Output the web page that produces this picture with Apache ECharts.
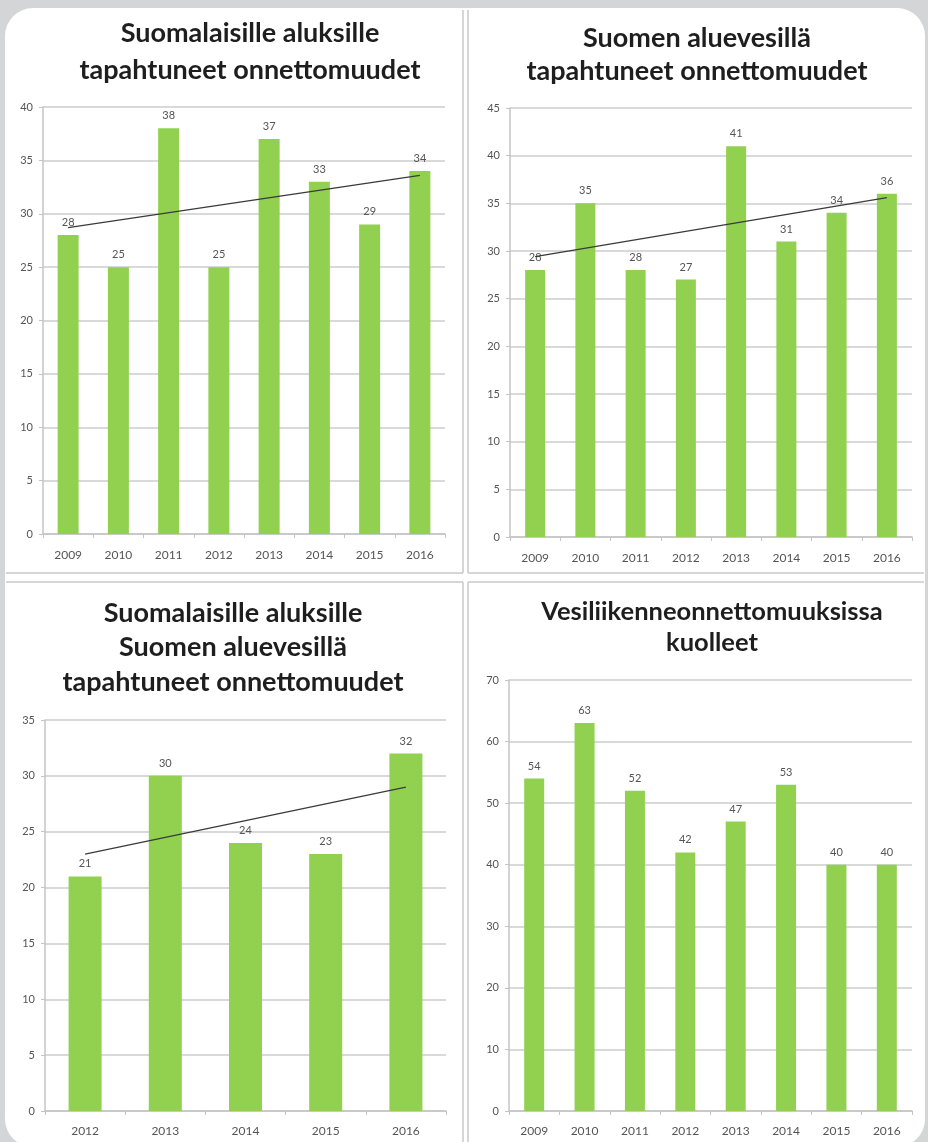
<!DOCTYPE html>
<html>
<head>
<meta charset="utf-8">
<script src="https://cdn.jsdelivr.net/npm/echarts@6/dist/echarts.min.js"></script>
<style>
  html, body { margin: 0; padding: 0; background: #d3d5d7; }
  #card {
    position: absolute; left: 5px; top: 8px; width: 920px; height: 1139px;
    background: #ffffff; border-radius: 28px;
  }
  #chart { position: absolute; left: 0; top: 0; width: 928px; height: 1142px; }
</style>
</head>
<body>
<div id="card"></div>
<div id="chart"></div>
<script>
// ---- data ----
var years8 = ['2009', '2010', '2011', '2012', '2013', '2014', '2015', '2016'];
var years5 = ['2012', '2013', '2014', '2015', '2016'];

var shipsValues = [28, 25, 38, 25, 37, 33, 29, 34];
var shipsTrend = [28.7, 33.6];          // trend line ends

var watersValues = [28, 35, 28, 27, 41, 31, 34, 36];
var watersTrend = [29.4, 35.6];

var bothValues = [21, 30, 24, 23, 32];
var bothTrend = [23, 29];

var deathsValues = [54, 63, 52, 42, 47, 53, 40, 40];

var titles = [
    'Suomalaisille aluksille\ntapahtuneet onnettomuudet',
    'Suomen aluevesillä\ntapahtuneet onnettomuudet',
    'Suomalaisille aluksille\nSuomen aluevesillä\ntapahtuneet onnettomuudet',
    'Vesiliikenneonnettomuuksissa\nkuolleet'
];

var GREEN = '#92d050';
var GRID_LINE = '#cdcdcd';
var TEXT = '#555555';
var FONT = 'Lato, "Open Sans", sans-serif';

var chart = echarts.init(document.getElementById('chart'));

function xAxisFor(idx, cats, margin) {
    return {
        type: 'category', gridIndex: idx, data: cats,
        axisLine: { show: true, lineStyle: { color: '#c4c4c4', width: 1.5 } },
        axisTick: { show: true, length: 4, lineStyle: { color: '#c4c4c4' } },
        axisLabel: { color: TEXT, fontSize: 12, fontFamily: FONT, margin: margin }
    };
}

function yAxisFor(idx, max, step) {
    return {
        type: 'value', gridIndex: idx, min: 0, max: max, interval: step,
        axisLine: { show: true, lineStyle: { color: '#c4c4c4', width: 1.5 } },
        axisTick: { show: true, length: 4, lineStyle: { color: '#c4c4c4' } },
        axisLabel: { color: TEXT, fontSize: 11, fontFamily: FONT, margin: 10 },
        splitLine: { show: true, lineStyle: { color: GRID_LINE, width: 1.5 } }
    };
}

function barsFor(idx, values, width) {
    return {
        type: 'bar', xAxisIndex: idx, yAxisIndex: idx, data: values,
        barWidth: width, itemStyle: { color: GREEN },
        label: { show: true, position: 'top', distance: 7, color: TEXT, fontSize: 11, fontFamily: FONT },
        silent: true
    };
}

function trendFor(idx, cats, ends) {
    var d = cats.map(function (c, i) {
        if (i === 0) return ends[0];
        if (i === cats.length - 1) return ends[1];
        return '-';
    });
    return {
        type: 'line', xAxisIndex: idx, yAxisIndex: idx, data: d,
        connectNulls: true, symbol: 'none', z: 5,
        lineStyle: { color: '#3a3a3a', width: 1.3 }, silent: true
    };
}

function titleText(x, y, text, size, lh) {
    return {
        type: 'text', x: x, y: y,
        style: {
            text: text, textAlign: 'center', textVerticalAlign: 'top',
            font: 'bold ' + size + 'px ' + FONT, fill: '#1e1e1e', lineHeight: lh
        }
    };
}

function sepLine(x1, y1, x2, y2) {
    return {
        type: 'line', shape: { x1: x1, y1: y1, x2: x2, y2: y2 },
        style: { stroke: '#c8c8c8', lineWidth: 1.5 }
    };
}

var option = {
    animation: false,
    grid: [
        { left: 43, right: 483, top: 107, bottom: 608 },
        { left: 510, right: 16, top: 108, bottom: 605 },
        { left: 45, right: 482, top: 720, bottom: 31 },
        { left: 509, right: 16, top: 680, bottom: 31 }
    ],
    xAxis: [
        xAxisFor(0, years8, 15),
        xAxisFor(1, years8, 15),
        xAxisFor(2, years5, 14),
        xAxisFor(3, years8, 14)
    ],
    yAxis: [
        yAxisFor(0, 40, 5),
        yAxisFor(1, 45, 5),
        yAxisFor(2, 35, 5),
        yAxisFor(3, 70, 10)
    ],
    series: [
        barsFor(0, shipsValues, 21),
        trendFor(0, years8, shipsTrend),
        barsFor(1, watersValues, 20),
        trendFor(1, years8, watersTrend),
        barsFor(2, bothValues, 33),
        trendFor(2, years5, bothTrend),
        barsFor(3, deathsValues, 20)
    ],
    graphic: [
        sepLine(463, 10, 463, 573),
        sepLine(468, 10, 468, 573),
        sepLine(463, 582, 463, 1142),
        sepLine(468, 582, 468, 1142),
        sepLine(6, 573, 463, 573),
        sepLine(468, 573, 924, 573),
        sepLine(6, 582, 463, 582),
        sepLine(468, 582, 924, 582),
        titleText(250, 15, titles[0], 27, 37),
        titleText(697, 22, titles[1], 27, 33),
        titleText(233, 596, titles[2], 27, 34.5),
        titleText(712, 596, titles[3], 25.5, 31)
    ]
};

chart.setOption(option);
</script>
</body>
</html>
